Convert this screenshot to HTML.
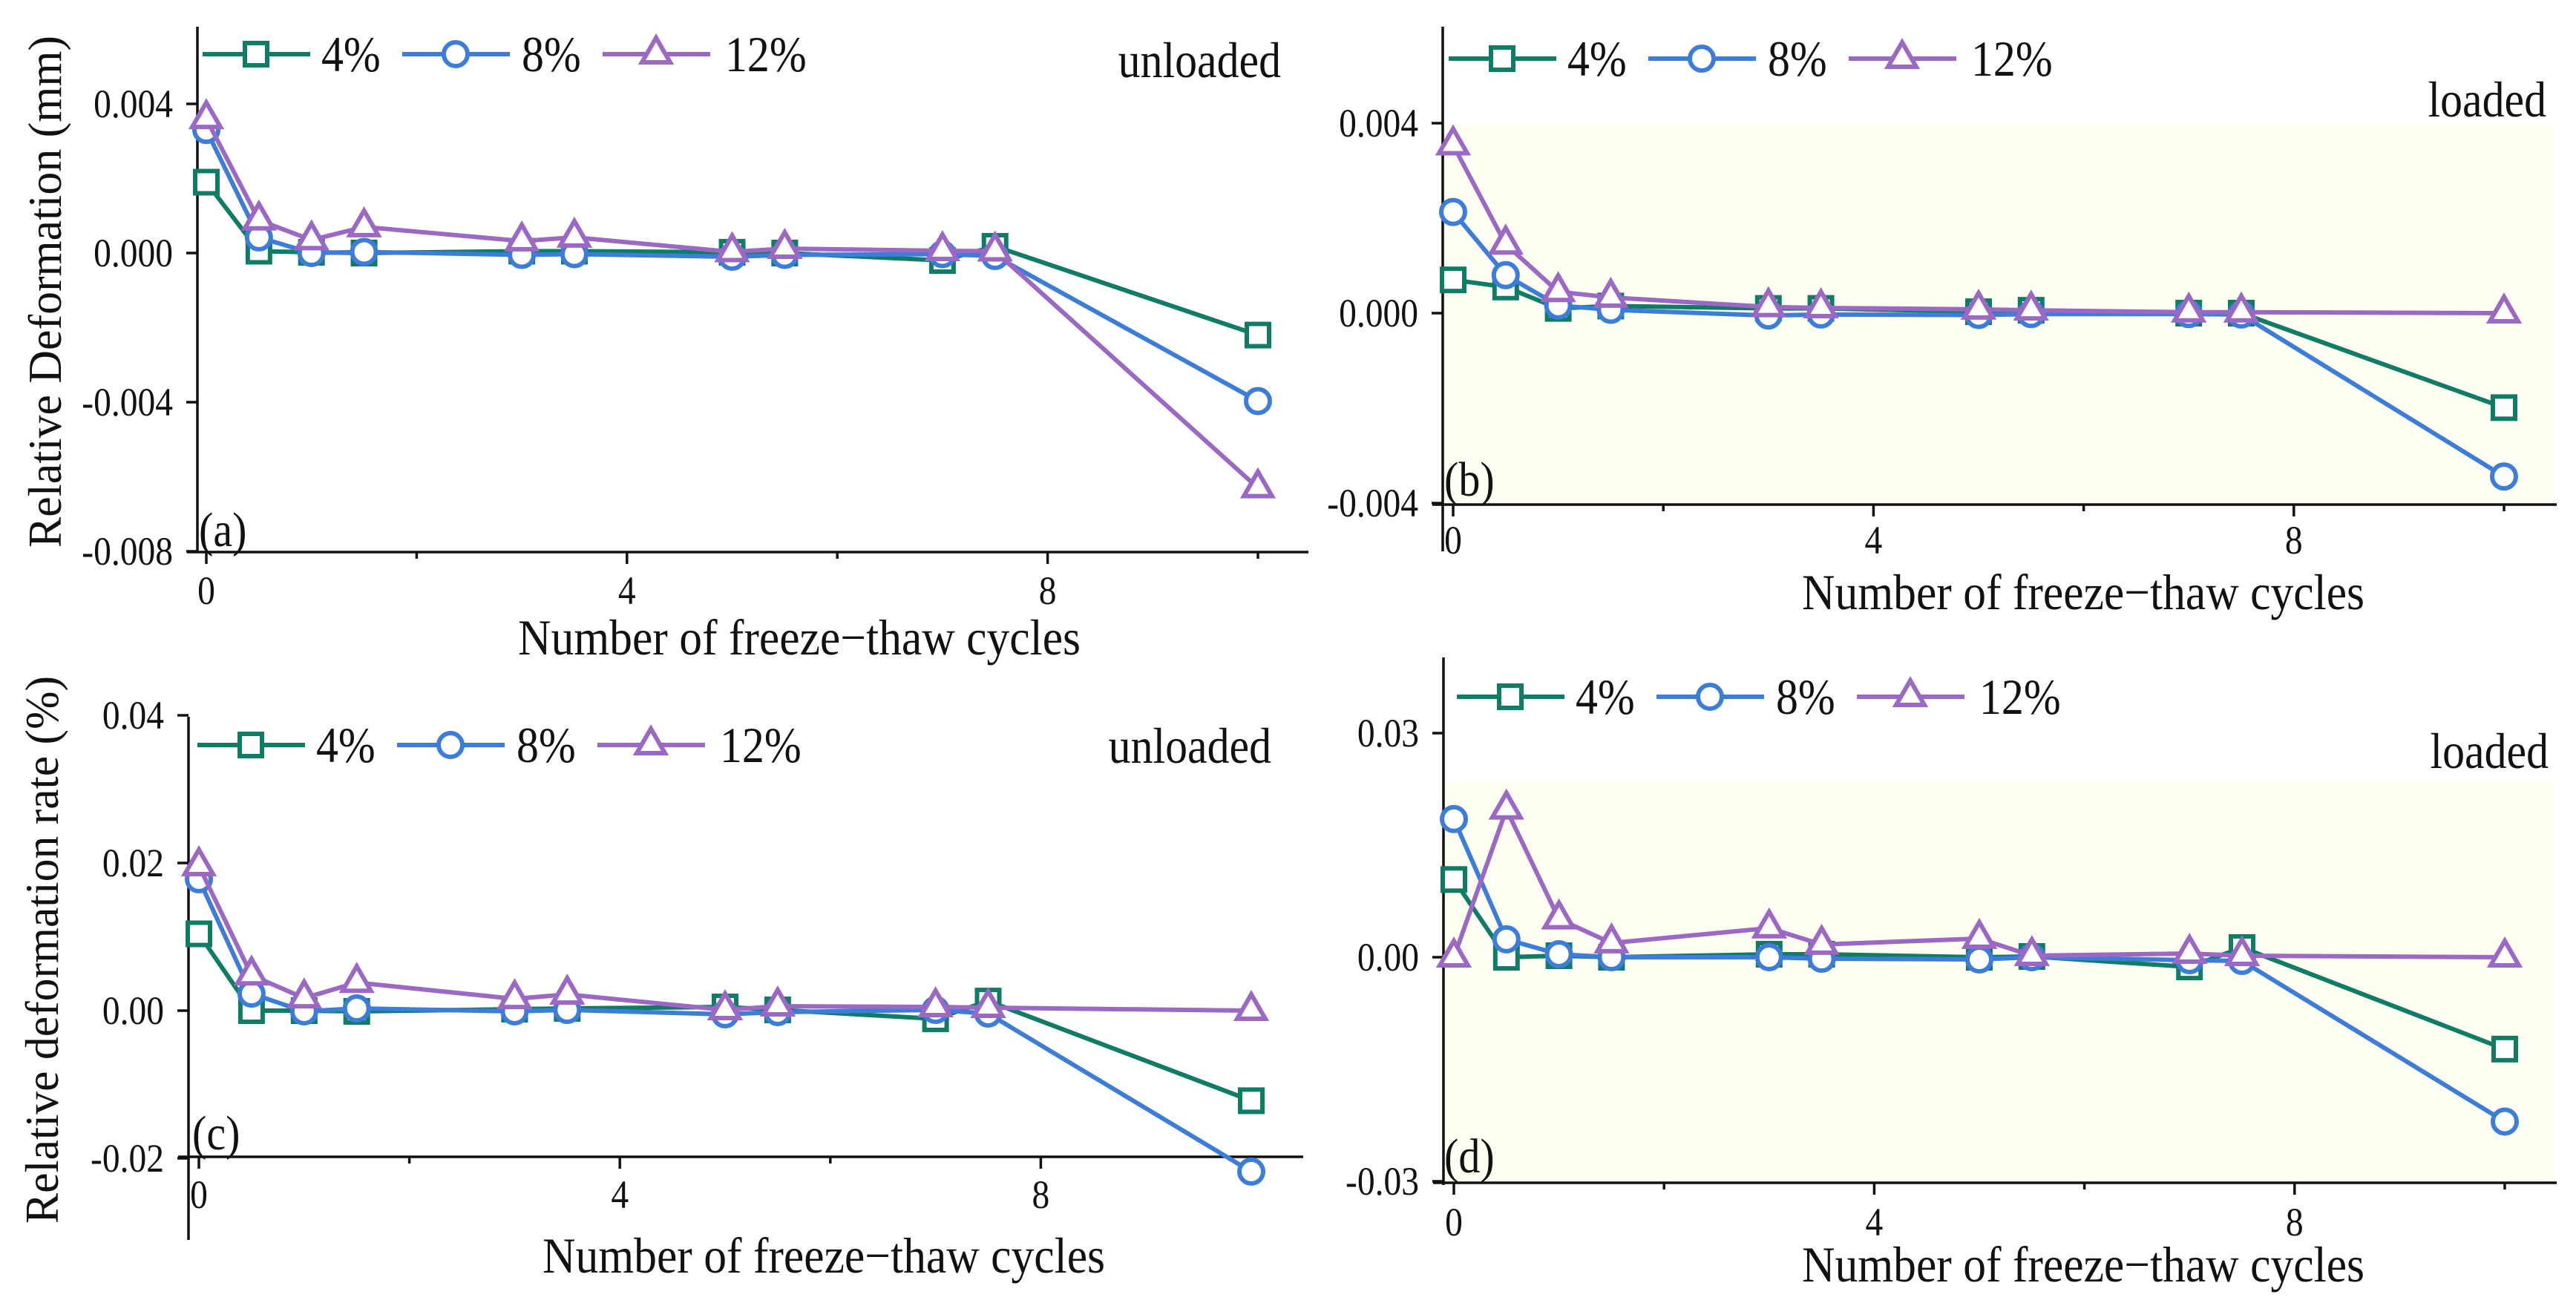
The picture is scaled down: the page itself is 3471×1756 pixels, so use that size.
<!DOCTYPE html>
<html><head><meta charset="utf-8"><style>
html,body{margin:0;padding:0;background:#fff;}
svg{display:block;font-family:"Liberation Serif",serif;}
</style></head><body>
<svg id="fig" width="3471" height="1756" viewBox="0 0 3471 1756" xmlns="http://www.w3.org/2000/svg"></svg>
<script>
// ---- data ----
const cycles = [0,0.5,1,1.5,3,3.5,5,5.5,7,7.5,10];
const seriesNames = ["4%","8%","12%"];
const xTickLabels = ["0","4","8"];
// (a) unloaded deformation (mm)
const aS4  = [0.0019,0.00005,0.00002,0.0,0.00005,0.00005,0.00002,0.0,-0.0002,0.00018,-0.0022];
const aS8  = [0.0033,0.00042,0.0,0.00003,-0.00005,-0.00003,-0.0001,-0.00005,-0.00003,-0.00008,-0.00397];
const aS12 = [0.0036,0.00088,0.00035,0.0007,0.00032,0.00042,0.00003,0.00012,0.00006,0.00005,-0.0063];
const aTicks = [0.004,0.0,-0.004,-0.008];
const aTickLabels = ["0.004","0.000","-0.004","-0.008"];
// (b) loaded deformation (mm)
const bS4  = [0.0007,0.00055,0.0001,0.00015,0.0001,0.0001,0.00003,0.00006,0.0,0.0,-0.00199];
const bS8  = [0.00213,0.0008,0.00016,0.00007,-0.00005,-0.00003,-0.00004,-0.00002,-0.00002,-0.00003,-0.00344];
const bS12 = [0.00354,0.00145,0.00045,0.00033,0.00013,0.00011,0.00008,0.00006,0.00002,0.00002,0.0];
const bTicks = [0.004,0.0,-0.004];
const bTickLabels = ["0.004","0.000","-0.004"];
// (c) unloaded deformation rate (%)
const cS4  = [0.0104,0.0,0.0,-0.0001,0.0002,0.0003,0.0005,0.0001,-0.0011,0.0013,-0.0122];
const cS8  = [0.0178,0.0023,-0.0001,0.0003,-0.0001,0.0001,-0.0005,-0.0002,0.0001,-0.0004,-0.0218];
const cS12 = [0.0196,0.0048,0.0017,0.0038,0.0016,0.0022,0.0001,0.0006,0.0005,0.0004,0.0];
const cTicks = [0.04,0.02,0.0,-0.02];
const cTickLabels = ["0.04","0.02","0.00","-0.02"];
// (d) loaded deformation rate (%)
const dS4  = [0.0104,0.0,0.0002,0.0,0.0004,0.0004,0.0,0.0001,-0.0013,0.0013,-0.0123];
const dS8  = [0.0185,0.0024,0.0004,0.0,0.0,-0.0002,-0.0003,0.0,-0.0004,-0.0005,-0.022];
const dS12 = [0.0,0.0198,0.0051,0.0019,0.0039,0.0017,0.0025,0.0002,0.0005,0.0002,0.0];
const dTicks = [0.03,0.0,-0.03];
const dTickLabels = ["0.03","0.00","-0.03"];

const NS="http://www.w3.org/2000/svg";
const svg=document.getElementById('fig');
const colors=["#0f7c66","#3b7dd8","#9b69c4"];
const shapes=["square","circle","triangle"];

function el(tag,attrs,parent){const e=document.createElementNS(NS,tag);for(const k in attrs)e.setAttribute(k,attrs[k]);(parent||svg).appendChild(e);return e;}
// condensed text: larger font, horizontally squeezed
function txt(x,y,s,size,anchor,parent,sx,len){
  const t=el('text',{x:0,y:0,'font-size':size,'text-anchor':anchor||'start',fill:'#111',transform:`translate(${x},${y}) scale(${sx||1},1)`},parent);
  if(len){t.setAttribute('textLength',len);t.setAttribute('lengthAdjust','spacingAndGlyphs');}
  t.textContent=s;return t;}
function marker(g,shape,cx,cy,col){
  let m;
  if(shape==='square') m=el('rect',{x:cx-15,y:cy-15,width:30,height:30,fill:'#fff',stroke:col,'stroke-width':6},g);
  else if(shape==='circle') m=el('circle',{cx:cx,cy:cy,r:16,fill:'#fff',stroke:col,'stroke-width':6},g);
  else m=el('polygon',{points:`${cx},${cy-22} ${cx+19},${cy+11} ${cx-19},${cy+11}`,fill:'#fff',stroke:col,'stroke-width':6,'stroke-linejoin':'miter'},g);
  return m;
}

const panels=[
 {id:'a',series:[aS4,aS8,aS12],ticks:aTicks,tickLabels:aTickLabels,axX:266,x0:278,xu:141.7,y0:341,yu:201/0.004,axY:744,xEnd:1763,yTop:36,yBot:744,bg:null,
  leg:[273,73],cond:'unloaded',condPos:[1726,104],lab:[268,736],xtY:814,xl:[1077,882],yl:{x:60,y:393,len:690,text:'Relative Deformation (mm)'}},
 {id:'b',series:[bS4,bS8,bS12],ticks:bTicks,tickLabels:bTickLabels,axX:1944,x0:1958,xu:141.6,y0:422,yu:256/0.004,axY:680,xEnd:3445,yTop:36,yBot:743,bg:[1944,168,3439,680],
  leg:[1952,79],cond:'loaded',condPos:[3431,157],lab:[1946,668],xtY:746,xl:[2807,821],yl:null},
 {id:'c',series:[cS4,cS8,cS12],ticks:cTicks,tickLabels:cTickLabels,axX:254,x0:268,xu:141.8,y0:1362,yu:199/0.02,axY:1559,xEnd:1756,yTop:966,yBot:1671,bg:null,
  leg:[266,1004],cond:'unloaded',condPos:[1713,1028],lab:[259,1549],xtY:1628,xl:[1110,1715],yl:{x:56,y:1280,len:738,text:'Relative deformation rate (%)'}},
 {id:'d',series:[dS4,dS8,dS12],ticks:dTicks,tickLabels:dTickLabels,axX:1945,x0:1959,xu:141.6,y0:1290,yu:302/0.03,axY:1594,xEnd:3445,yTop:886,yBot:1597,bg:[1945,1054,3439,1594],
  leg:[1963,939],cond:'loaded',condPos:[3434,1035],lab:[1946,1580],xtY:1665,xl:[2807,1727],yl:null}
];

panels.forEach(p=>{
  const g=el('g',{});
  
  
  const X=v=>p.x0+v*p.xu;
  const Y=v=>p.y0-v*p.yu;
  if(p.bg){const r=el('rect',{x:p.bg[0],y:p.bg[1],width:p.bg[2]-p.bg[0],height:p.bg[3]-p.bg[1],fill:'#fffef2'},g);
    }
  const ya=el('line',{x1:p.axX,y1:p.yTop,x2:p.axX,y2:p.yBot,stroke:'#111','stroke-width':3.5},g);
  
  const xa=el('line',{x1:p.axX-14,y1:p.axY,x2:p.xEnd,y2:p.axY,stroke:'#111','stroke-width':3.5},g);
  
  p.ticks.forEach((t,i)=>{
    el('line',{x1:p.axX-15,y1:Y(t),x2:p.axX,y2:Y(t),stroke:'#111','stroke-width':3.5},g);
    const lt=txt(p.axX-33,Y(t)+18,p.tickLabels[i],54,'end',g,0.88);
    
  });
  [0,2,4,6,8,10].forEach(v=>{
    const major=v%4===0;
    el('line',{x1:X(v),y1:p.axY,x2:X(v),y2:p.axY+(major?16:9),stroke:'#111','stroke-width':3.5},g);
  });
  [0,4,8].forEach((v,i)=>{const t=txt(X(v),p.xtY,xTickLabels[i],54,'middle',g,0.88);
    });
  const xl=txt(p.xl[0],p.xl[1],'Number of freeze\u2212thaw cycles',68,'middle',g,1,758);
  
  if(p.yl){const t=el('text',{x:0,y:0,'font-size':64,'text-anchor':'middle',fill:'#111',transform:`translate(${p.yl.x+22},${p.yl.y}) rotate(-90)`,textLength:p.yl.len,lengthAdjust:'spacingAndGlyphs'},g);
    t.textContent=p.yl.text;}
  p.series.forEach((vals,si)=>{
    const sg=el('g',{},g);
    
    
    const pts=cycles.map((c,i)=>X(c)+','+Y(vals[i])).join(' ');
    el('polyline',{points:pts,fill:'none',stroke:colors[si],'stroke-width':6,'stroke-linejoin':'round'},sg);
    cycles.forEach((c,i)=>{const m=marker(sg,shapes[si],X(c),Y(vals[i]),colors[si]);
      });
  });
  const L=p.leg[0],ly=p.leg[1];
  const offs=[0,269,539], textOffs=[160,430,704];
  seriesNames.forEach((n,si)=>{
    const lg=el('g',{},g);
    
    
    el('line',{x1:L+offs[si],y1:ly,x2:L+offs[si]+145,y2:ly,stroke:colors[si],'stroke-width':6},lg);
    marker(lg,shapes[si],L+offs[si]+72,ly,colors[si]);
    txt(L+textOffs[si],ly+23,n,68,'start',lg,0.88);
  });
  const ct=txt(p.condPos[0],p.condPos[1],p.cond,68,'end',g,0.88);
  
  const pl=txt(p.lab[0],p.lab[1],'('+p.id+')',66,'start',g,0.88);
  
});
</script>
</body></html>
